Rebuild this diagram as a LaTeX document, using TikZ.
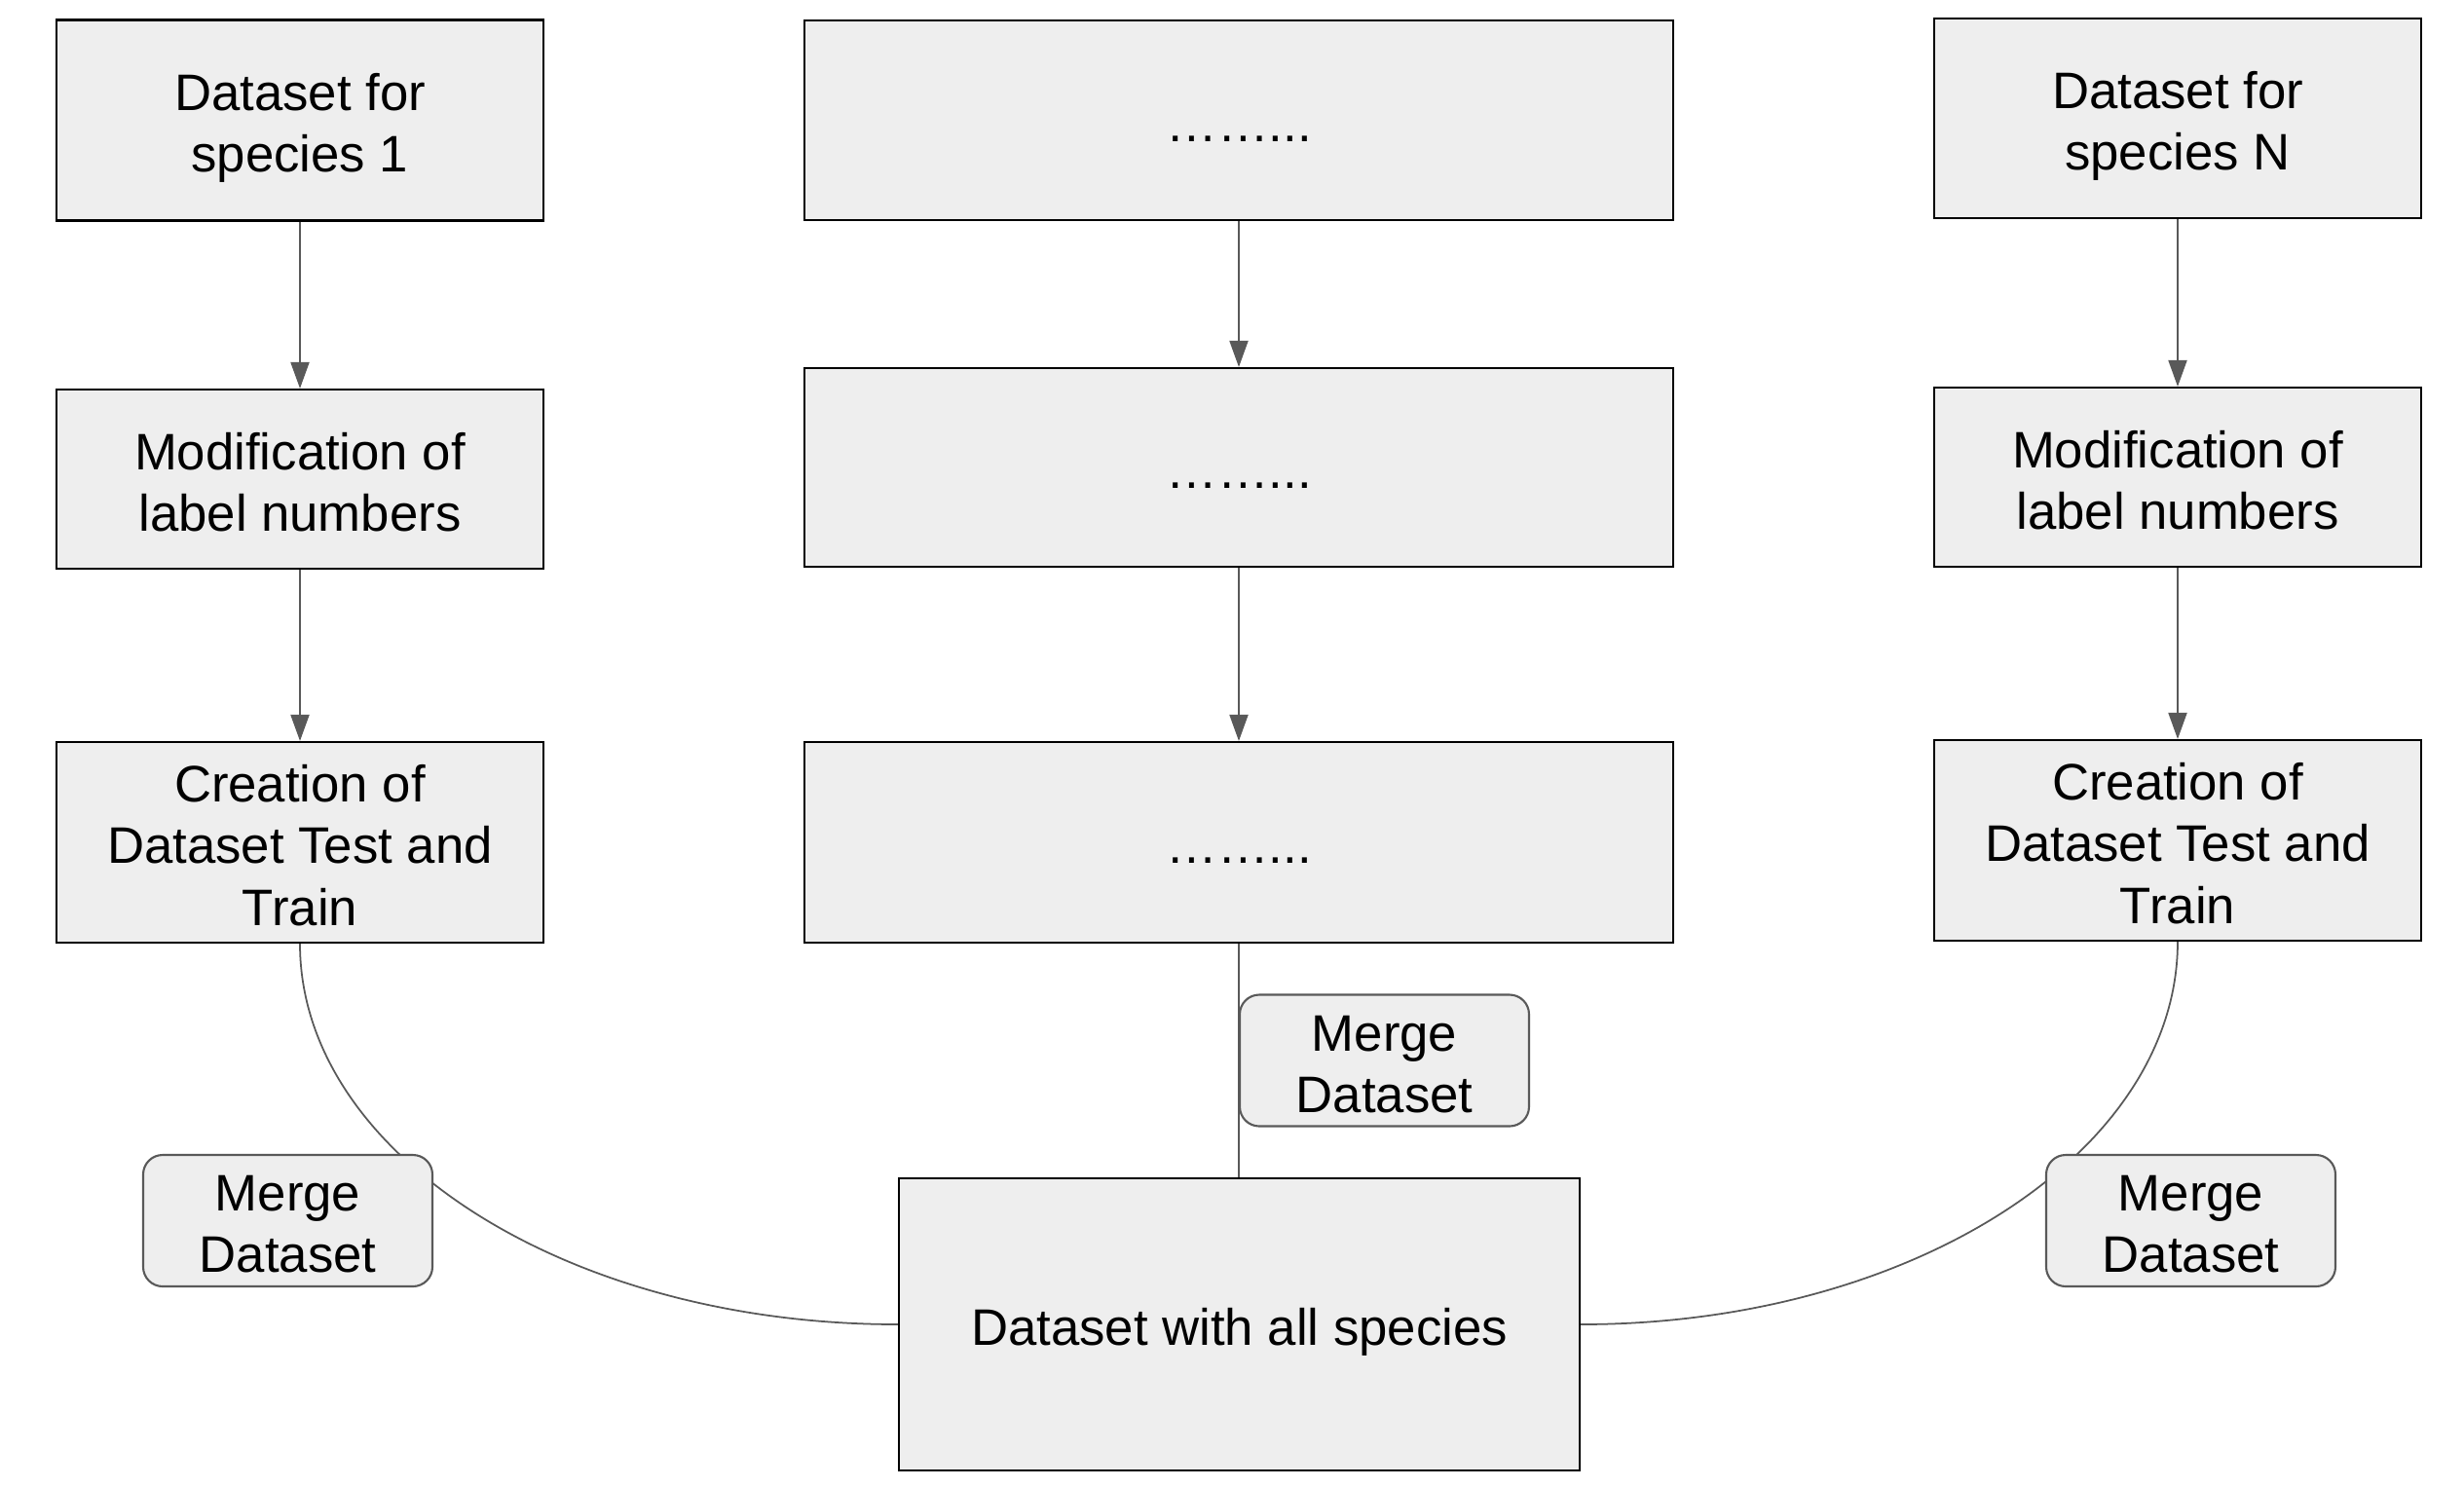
\documentclass[tikz,border=0pt]{standalone}
\usepackage{fontspec}
\setmainfont{Liberation Sans}
\usetikzlibrary{arrows.meta}
\definecolor{boxFill}{HTML}{EEEEEE}
\definecolor{lineGrey}{HTML}{595959}
\newcommand{\CapStrut}{\rule{0pt}{1.076em}}
\newcommand{\DropStrut}{\rule[-0.25em]{0pt}{0.25em}}

\begin{document}
\begin{tikzpicture}[
  stepbox/.style={draw=black,fill=boxFill,line width=0.6pt,inner sep=0pt,align=center,font=\fontsize{15}{18}\selectfont},
  mergebox/.style={draw=lineGrey,fill=boxFill,line width=0.6pt,rounded corners=0.2cm,inner sep=0pt,align=center,minimum width=2.97cm,minimum height=1.35cm,font=\fontsize{15}{18}\selectfont},
  flow/.style={lineGrey,line width=0.55pt,-{Triangle[length=0.27cm,width=0.19cm]}},
  joinline/.style={lineGrey,line width=0.5pt}]
\useasboundingbox (0,0) rectangle (25.3,-15.26);
\node[stepbox,minimum width=5cm,minimum height=2.06cm] (dataFirst) at (3.08,-1.235) {\CapStrut Dataset for\\species 1\DropStrut};
\node[stepbox,minimum width=5cm,minimum height=1.84cm] (modFirst) at (3.08,-4.92) {\CapStrut Modification of\\label numbers\DropStrut};
\node[stepbox,minimum width=5cm,minimum height=2.06cm] (splitFirst) at (3.08,-8.65) {\CapStrut Creation of\\Dataset Test and\\Train\DropStrut};
\node[stepbox,minimum width=8.92cm,minimum height=2.05cm] (dotsTop) at (12.72,-1.235) {\CapStrut……...\DropStrut};
\node[stepbox,minimum width=8.92cm,minimum height=2.04cm] (dotsMid) at (12.72,-4.80) {\CapStrut……...\DropStrut};
\node[stepbox,minimum width=8.92cm,minimum height=2.06cm] (dotsLow) at (12.72,-8.65) {\CapStrut……...\DropStrut};
\node[stepbox,minimum width=5cm,minimum height=2.05cm] (dataLast) at (22.36,-1.215) {\CapStrut Dataset for\\species N\DropStrut};
\node[stepbox,minimum width=5cm,minimum height=1.84cm] (modLast) at (22.36,-4.90) {\CapStrut Modification of\\label numbers\DropStrut};
\node[stepbox,minimum width=5cm,minimum height=2.06cm] (splitLast) at (22.36,-8.63) {\CapStrut Creation of\\Dataset Test and\\Train\DropStrut};
\node[stepbox,minimum width=6.99cm,minimum height=3.00cm] (allSpecies) at (12.725,-13.60) {\CapStrut Dataset with all species\DropStrut};
\draw[flow] (dataFirst) -- (modFirst);
\draw[flow] (modFirst) -- (splitFirst);
\draw[flow] (dotsTop) -- (dotsMid);
\draw[flow] (dotsMid) -- (dotsLow);
\draw[flow] (dataLast) -- (modLast);
\draw[flow] (modLast) -- (splitLast);
\draw[joinline] (dotsLow.south) -- (dotsLow.south |- allSpecies.north);
\draw[joinline] (splitFirst.south) .. controls +(0,-2.16) and +(-3.40,0) .. (allSpecies.west);
\draw[joinline] (splitLast.south) .. controls +(0,-2.16) and +(3.40,0) .. (allSpecies.east);
\node[mergebox] (mergeLeft) at (2.955,-12.535) {\CapStrut Merge\\Dataset\DropStrut};
\node[mergebox] (mergeMid) at (14.215,-10.89) {\CapStrut Merge\\Dataset\DropStrut};
\node[mergebox] (mergeRight) at (22.495,-12.535) {\CapStrut Merge\\Dataset\DropStrut};
\end{tikzpicture}
\end{document}
